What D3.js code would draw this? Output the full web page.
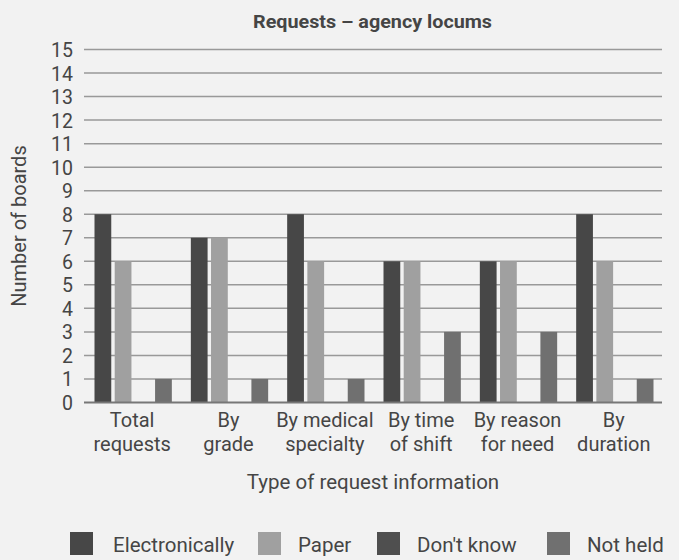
<!DOCTYPE html>
<html><head><meta charset="utf-8">
<script src="https://cdn.jsdelivr.net/npm/d3@7"></script>
<style>
body{margin:0;background:#f2f2f2;}
svg{display:block;font-family:Roboto, "Liberation Sans", sans-serif;}
</style></head>
<body><svg id="c" width="679" height="560"></svg>
<script>
const categories = [["Total","requests"],["By","grade"],["By medical","specialty"],["By time","of shift"],["By reason","for need"],["By","duration"]];
const seriesNames = ["Electronically","Paper","Don't know","Not held"];
const electronically = [8,7,8,6,6,8];
const paper = [6,7,6,6,6,6];
const dontKnow = [0,0,0,0,0,0];
const notHeld = [1,1,1,3,3,1];
const yTicks = d3.range(0,16);
const colors = ["#474747","#a0a0a0","#4f4f4f","#707070"];

const series = [electronically, paper, dontKnow, notHeld];
const svg = d3.select("#c");
const m = {l:84, r:662, t:49.5, b:402.5};
const x0 = d3.scaleBand().domain(d3.range(categories.length)).range([m.l,m.r]).paddingInner(0).paddingOuter(0);
const x1 = d3.scaleBand().domain(d3.range(4)).range([10.5, x0.bandwidth()-8.5]).paddingInner(0.17).paddingOuter(0);
const y = d3.scaleLinear().domain([0,15]).range([m.b,m.t]);
const txt = "#454545";

svg.append("rect").attr("width",679).attr("height",560).attr("fill","#f2f2f2");
svg.append("text").attr("x",372.5).attr("y",28).attr("text-anchor","middle")
  .attr("font-size",18).attr("font-weight","bold").attr("fill",txt).attr("textLength",239).attr("lengthAdjust","spacingAndGlyphs").text("Requests – agency locums");

// grid
svg.append("g").selectAll("line").data(yTicks.filter(d=>d>0)).join("line")
  .attr("x1",m.l).attr("x2",m.r).attr("y1",d=>y(d)).attr("y2",d=>y(d))
  .attr("stroke","#999").attr("stroke-width",1.5);

// y tick labels
const yAxis = d3.axisLeft(y).tickValues(yTicks).tickSize(0).tickPadding(0);
const ga = svg.append("g").attr("transform",`translate(${m.l-11},0)`).call(yAxis);
ga.select(".domain").remove();
ga.selectAll("text").attr("font-size",19.5).attr("fill",txt).attr("font-family","Roboto, sans-serif").attr("dy","0.36em");

// bars
const g = svg.append("g");
categories.forEach((c,i)=>{
  series.forEach((s,j)=>{
    g.append("rect").attr("x",x0(i)+x1(j)).attr("width",x1.bandwidth())
      .attr("y",y(s[i])).attr("height",y(0)-y(s[i])).attr("fill",colors[j]);
  });
});
// zero line
svg.append("line").attr("x1",m.l).attr("x2",m.r).attr("y1",y(0)).attr("y2",y(0)).attr("stroke","#777").attr("stroke-width",2);

// x labels
const xl = svg.append("g");
categories.forEach((c,i)=>{
  const t = xl.append("text").attr("text-anchor","middle").attr("font-size",20).attr("fill",txt);
  c.forEach((line,k)=>{
    t.append("tspan").attr("x",x0(i)+x0.bandwidth()/2).attr("y",427+k*24).text(line);
  });
});
svg.append("text").attr("x",373).attr("y",489).attr("text-anchor","middle").attr("font-size",20.5).attr("fill",txt).text("Type of request information");
svg.append("text").attr("transform","translate(26,226) rotate(-90)").attr("text-anchor","middle").attr("font-size",20).attr("fill",txt).text("Number of boards");

// legend
const legX = [70,258,377,547];
const lg = svg.append("g");
seriesNames.forEach((n,j)=>{
  lg.append("rect").attr("x",legX[j]).attr("y",532).attr("width",23).attr("height",23).attr("fill",colors[j]);
  lg.append("text").attr("x",legX[j]+(j===0?43:40)).attr("y",552).attr("font-size",20.5).attr("fill",txt).text(n);
});
</script></body></html>
